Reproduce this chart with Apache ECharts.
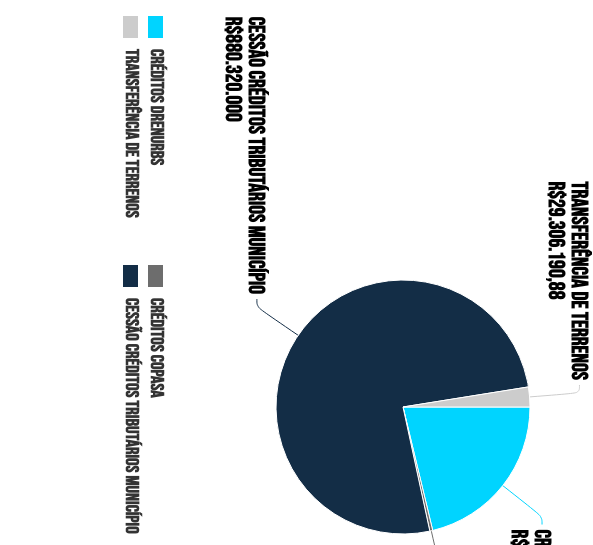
<!DOCTYPE html>
<html>
<head>
<meta charset="utf-8">
<script src="https://cdn.jsdelivr.net/npm/echarts@6/dist/echarts.min.js"></script>
<style>
html,body{margin:0;padding:0;width:593px;height:545px;overflow:hidden;background:#fff}
#c{position:absolute;left:0;top:0;width:816px;height:593px;transform-origin:0 0;transform:translate(593px,0) rotate(90deg);}
</style>
</head>
<body>
<div id="c"></div>
<script>
const categories = ['CRÉDITOS DRENURBS', 'CRÉDITOS COPASA', 'CESSÃO CRÉDITOS TRIBUTÁRIOS MUNICÍPIO', 'TRANSFERÊNCIA DE TERRENOS'];
const values = [246500000, 4300000, 880320000, 29306190.88];
const legendColumn1 = ['CRÉDITOS DRENURBS', 'TRANSFERÊNCIA DE TERRENOS'];
const legendColumn2 = ['CRÉDITOS COPASA', 'CESSÃO CRÉDITOS TRIBUTÁRIOS MUNICÍPIO'];

const palette = ['#00d4ff', '#6d6d6d', '#132d46', '#cccccc'];
const FONT = '"Bebas Neue", "Oswald", sans-serif';
const fmt = new Intl.NumberFormat('pt-BR', {maximumFractionDigits: 2});

const chart = echarts.init(document.getElementById('c'));
const legendBase = {
  orient: 'vertical', top: 428, itemGap: 6, itemWidth: 24, itemHeight: 17,
  icon: 'rect', padding: 0, selectedMode: false,
  textStyle: {fontFamily: FONT, fontSize: 18.7, fontWeight: 'bold', color: '#333', padding: [0, 0, 0, 5]}
};
chart.setOption({
  animation: false,
  color: palette,
  legend: [
    Object.assign({}, legendBase, {left: 14, data: legendColumn1}),
    Object.assign({}, legendBase, {left: 263, data: legendColumn2})
  ],
  series: [{
    type: 'pie',
    center: [407, 190],
    radius: 127,
    startAngle: 90,
    clockwise: true,
    avoidLabelOverlap: false,
    itemStyle: {borderColor: '#fff', borderWidth: 1},
    label: {
      show: true,
      formatter: p => '{n|' + p.name + '}\n{n|R$' + fmt.format(p.value) + '}',
      padding: [27, 0, 0, 0],
      overflow: 'none',
      distanceToLabelLine: 5,
      rich: {
        n: {fontFamily: FONT, fontSize: 22, fontWeight: 'bold', color: '#000', lineHeight: 23, align: 'left'}
      }
    },
    labelLine: {show: true, length: 50, length2: 8, smooth: 0.4, lineStyle: {width: 1}},
    data: categories.map((c, i) => ({name: c, value: values[i]}))
  }]
});
</script>
</body>
</html>
